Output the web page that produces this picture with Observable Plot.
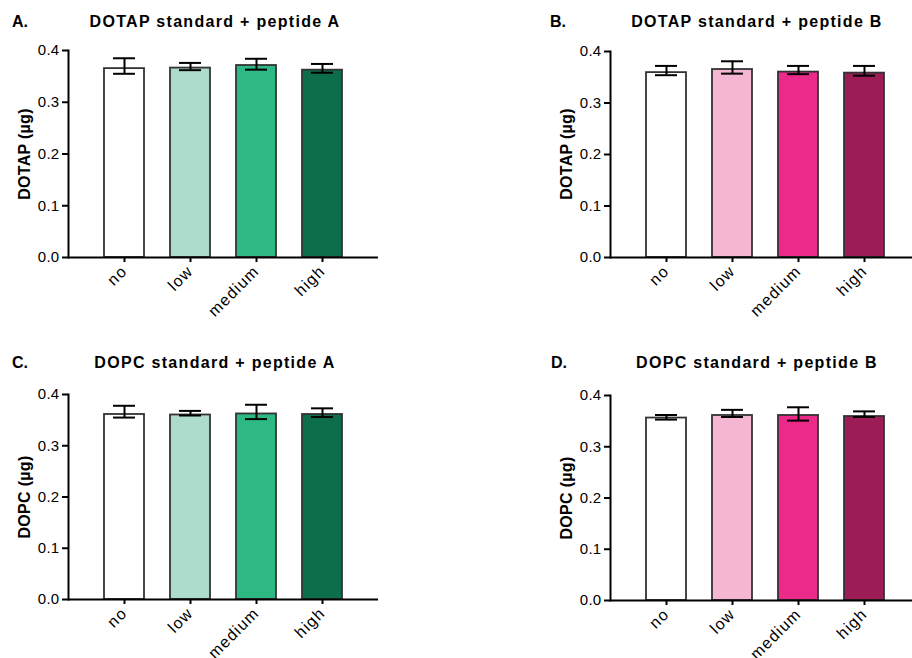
<!DOCTYPE html>
<html>
<head>
<meta charset="utf-8">
<script src="https://cdn.jsdelivr.net/npm/d3@7"></script>
<script src="https://cdn.jsdelivr.net/npm/@observablehq/plot@0.6"></script>
<style>
  html, body { margin: 0; padding: 0; background: #fff; }
  body { width: 912px; height: 658px; overflow: hidden; position: relative; font-family: "Liberation Sans", Arial, sans-serif; color: #000; }
  .panel { position: absolute; }
  .letter { position: absolute; font-weight: bold; font-size: 16px; line-height: 1; transform: translateY(-50%); }
  .title { position: absolute; font-weight: bold; font-size: 16px; letter-spacing: 1.3px; line-height: 1; white-space: nowrap; transform: translate(-50%, -50%); }
  .ylab { position: absolute; font-weight: bold; font-size: 16px; letter-spacing: 0.3px; line-height: 1; white-space: nowrap; transform: translate(-50%, -50%) rotate(-90deg); }
  svg { overflow: visible; }
  svg g[aria-label="x-axis tick label"] text { letter-spacing: 1.2px; }
  svg g[aria-label="y-axis tick label"] text { letter-spacing: 0.3px; }
</style>
</head>
<body>
<script>
// ---- data ----
const categories = ["no", "low", "medium", "high"];

const dotapA_mean = [0.365, 0.366, 0.371, 0.362];
const dotapA_lo   = [0.355, 0.362, 0.363, 0.357];
const dotapA_hi   = [0.385, 0.376, 0.384, 0.374];

const dotapB_mean = [0.359, 0.365, 0.360, 0.358];
const dotapB_lo   = [0.354, 0.357, 0.356, 0.353];
const dotapB_hi   = [0.372, 0.381, 0.372, 0.372];

const dopcA_mean = [0.361, 0.360, 0.362, 0.361];
const dopcA_lo   = [0.355, 0.359, 0.352, 0.356];
const dopcA_hi   = [0.378, 0.368, 0.380, 0.373];

const dopcB_mean = [0.356, 0.361, 0.361, 0.359];
const dopcB_lo   = [0.353, 0.358, 0.351, 0.358];
const dopcB_hi   = [0.362, 0.372, 0.377, 0.369];

const yTicks = [0, 0.1, 0.2, 0.3, 0.4];
const greens = ["#ffffff", "#addccd", "#2eb883", "#0d6e4b"];
const pinks  = ["#ffffff", "#f5b6d2", "#ec2a8a", "#9c1c55"];

const panels = [
  {letter: "A.", title: "DOTAP standard + peptide A", ylabel: "DOTAP (µg)", mean: dotapA_mean, lo: dotapA_lo, hi: dotapA_hi, colors: greens,
   left: 0, top: 35, mLeft: 68, mTop: 15, plotH: 207, titleX: 215, titleY: 22, letterX: 12, ylabX: 25},
  {letter: "B.", title: "DOTAP standard + peptide B", ylabel: "DOTAP (µg)", mean: dotapB_mean, lo: dotapB_lo, hi: dotapB_hi, colors: pinks,
   left: 456, top: 35, mLeft: 154, mTop: 16, plotH: 206, titleX: 757, titleY: 22, letterX: 550, ylabX: 567},
  {letter: "C.", title: "DOPC standard + peptide A", ylabel: "DOPC (µg)", mean: dopcA_mean, lo: dopcA_lo, hi: dopcA_hi, colors: greens,
   left: 0, top: 379, mLeft: 68, mTop: 15, plotH: 205, titleX: 215, titleY: 363, letterX: 12, ylabX: 25},
  {letter: "D.", title: "DOPC standard + peptide B", ylabel: "DOPC (µg)", mean: dopcB_mean, lo: dopcB_lo, hi: dopcB_hi, colors: pinks,
   left: 456, top: 380, mLeft: 154, mTop: 15, plotH: 205, titleX: 757, titleY: 363, letterX: 551, ylabX: 567}
];

for (const p of panels) {
  const rows = categories.map((c, i) => ({cat: c, mean: p.mean[i], lo: p.lo[i], hi: p.hi[i]}));
  const mBottom = 70, mRight = 12, frameW = 310;
  const chart = Plot.plot({
    width: p.mLeft + frameW + mRight,
    height: p.mTop + p.plotH + mBottom,
    marginLeft: p.mLeft,
    marginRight: mRight,
    marginTop: p.mTop,
    marginBottom: mBottom,
    style: {fontSize: "15px", fontFamily: "'Liberation Sans', Arial, sans-serif", color: "#000", background: "transparent"},
    x: {domain: categories, paddingInner: 0.394, paddingOuter: 0.545},
    y: {domain: [0, 0.4]},
    color: {domain: categories, range: p.colors},
    marks: [
      Plot.barY(rows, {x: "cat", y: "mean", fill: "cat", stroke: "#333333", strokeWidth: 1.8}),
      Plot.ruleX(rows, {x: "cat", y1: "lo", y2: "hi", stroke: "#000", strokeWidth: 2}),
      Plot.tickY(rows, {x: "cat", y: "hi", stroke: "#000", strokeWidth: 2, insetLeft: 9, insetRight: 9}),
      Plot.tickY(rows, {x: "cat", y: "lo", stroke: "#000", strokeWidth: 2, insetLeft: 9, insetRight: 9}),
      Plot.axisX({label: null, tickRotate: -45, tickSize: 5, tickPadding: 6, fontSize: 16, strokeWidth: 2}),
      Plot.axisY({ticks: yTicks, tickFormat: d3.format(".1f"), label: null, tickSize: 6, tickPadding: 3, fontSize: 15, strokeWidth: 2}),
      Plot.ruleY([0], {stroke: "#000", strokeWidth: 2}),
      Plot.frame({anchor: "left", stroke: "#000", strokeWidth: 2})
    ]
  });
  chart.classList.add("panel");
  chart.style.left = p.left + "px";
  chart.style.top = p.top + "px";
  document.body.appendChild(chart);

  const letter = document.createElement("div");
  letter.className = "letter";
  letter.textContent = p.letter;
  letter.style.left = p.letterX + "px";
  letter.style.top = p.titleY + "px";
  document.body.appendChild(letter);

  const title = document.createElement("div");
  title.className = "title";
  title.textContent = p.title;
  title.style.left = p.titleX + "px";
  title.style.top = p.titleY + "px";
  document.body.appendChild(title);

  const ylab = document.createElement("div");
  ylab.className = "ylab";
  ylab.textContent = p.ylabel;
  ylab.style.left = p.ylabX + "px";
  ylab.style.top = (p.top + p.mTop + p.plotH / 2) + "px";
  document.body.appendChild(ylab);
}
</script>
</body>
</html>
